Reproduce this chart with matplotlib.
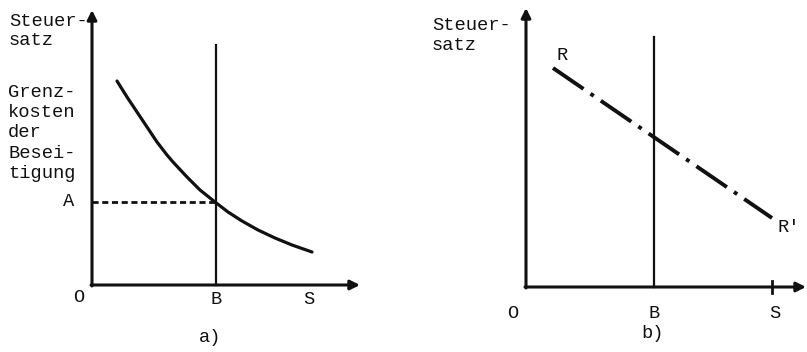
import matplotlib
matplotlib.use("Agg")
import matplotlib.pyplot as plt

plt.rcParams['font.family'] = ['Liberation Mono', 'DejaVu Sans Mono']

# panel a) - marginal cost of abatement curve
curve_x = [25, 35, 45, 55, 65, 75, 81, 95, 108, 123, 136, 150, 166, 183, 200, 220]
curve_y = [204, 188, 173, 158, 143, 130, 123, 108, 95, 83, 73, 64, 55, 47, 40, 33]
a_B = 124
a_B_top = 240
a_A = 83
a_S = 217
a_xend = 268
a_yend = 275

# panel b) - line R-R'
r_x = [27, 246]
r_y = [219, 69]
b_B = 128
b_B_top = 250
b_S = 246
b_xend = 280
b_yend = 279

ink = '#111111'
fs = 13.5

fig = plt.figure(figsize=(8.07, 3.52), dpi=100)

def make_axes(left_px, width_px, ox, oy):
    ax = fig.add_axes([left_px / 807, 0, width_px / 807, 1])
    ax.set_xlim(-ox, width_px - ox)
    ax.set_ylim(-(352 - oy), oy)
    ax.axis('off')
    return ax

def draw_axes(ax, xend, yend):
    arrow = dict(arrowstyle='-|>', lw=2.2, color=ink, mutation_scale=14,
                 shrinkA=0, shrinkB=0)
    ax.annotate('', xy=(xend, 0), xytext=(-1, 0), arrowprops=arrow)
    ax.annotate('', xy=(0, yend), xytext=(0, -1), arrowprops=arrow)

# ---- a)
ax = make_axes(0, 400, 92, 285)
draw_axes(ax, a_xend, a_yend)
ax.plot([a_B, a_B], [0, a_B_top], color=ink, lw=1.6)
ax.plot(curve_x, curve_y, color=ink, lw=2.3, solid_capstyle='round',
        solid_joinstyle='round')
ax.plot([0, a_B], [a_A, a_A], color=ink, lw=2.0, linestyle=(0, (2.2, 1.3)))

ax.text(-83, 259, 'Steuer-', fontsize=fs, color=ink, va='baseline')
ax.text(-83, 240, 'satz', fontsize=fs, color=ink, va='baseline')
for yb, word in zip([188, 168, 148, 127, 107],
                    ['Grenz-', 'kosten', 'der', 'Besei-', 'tigung']):
    ax.text(-84, yb, word, fontsize=fs, color=ink, va='baseline')
ax.text(-23, 83, 'A', fontsize=fs, color=ink, ha='center', va='center')
ax.text(-13, -13, 'O', fontsize=fs, color=ink, ha='center', va='center')
ax.text(a_B, -15, 'B', fontsize=fs, color=ink, ha='center', va='center')
ax.text(a_S, -15, 'S', fontsize=fs, color=ink, ha='center', va='center')
ax.text(118, -52, 'a)', fontsize=fs, color=ink, ha='center', va='center')

# ---- b)
ax = make_axes(400, 407, 126, 287)
draw_axes(ax, b_xend, b_yend)
ax.plot([b_B, b_B], [0, b_B_top], color=ink, lw=1.6)
ax.plot([b_S, b_S], [-6, 6], color=ink, lw=2.0)
ax.plot(r_x, r_y, color=ink, lw=2.8, linestyle=(0, (9.5, 2.2, 1.0, 2.2)))

ax.text(-94, 257, 'Steuer-', fontsize=fs, color=ink, va='baseline')
ax.text(-94, 237, 'satz', fontsize=fs, color=ink, va='baseline')
ax.text(36, 232, 'R', fontsize=fs, color=ink, ha='center', va='center')
ax.text(263, 59, "R'", fontsize=fs, color=ink, ha='center', va='center')
ax.text(-13, -26, 'O', fontsize=fs, color=ink, ha='center', va='center')
ax.text(b_B, -26, 'B', fontsize=fs, color=ink, ha='center', va='center')
ax.text(249, -26, 'S', fontsize=fs, color=ink, ha='center', va='center')
ax.text(127, -46, 'b)', fontsize=fs, color=ink, ha='center', va='center')

fig.savefig('out.png', dpi=100)
